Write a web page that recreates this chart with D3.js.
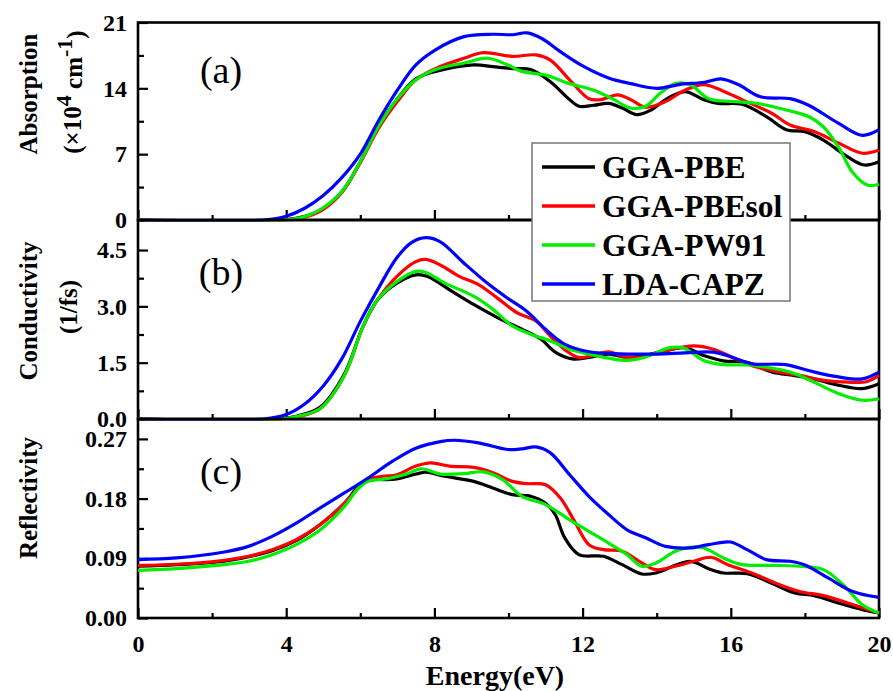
<!DOCTYPE html>
<html>
<head>
<meta charset="utf-8">
<script src="https://cdn.jsdelivr.net/npm/d3@7"></script>
<style>
  html, body { margin: 0; padding: 0; background: #fff; }
  svg { display: block; }
  text { font-family: "Liberation Serif", "Times New Roman", serif; }
</style>
</head>
<body>
<svg id="chart" width="893" height="691"></svg>
<script>
// Functional names shown in the legend
const methods = ["GGA-PBE", "GGA-PBEsol", "GGA-PW91", "LDA-CAPZ"];
const colors = ["#000000", "#ff0000", "#00ee00", "#0000ff"];

// Energy axis ticks (eV)
const energyMajor = [0, 4, 8, 12, 16, 20];
const energyMinor = [2, 6, 10, 14, 18];

// Absorption (x10^4 cm^-1): [energy, value]
const absPBE = [[0,0],[3.8,0],[4.3,0.2],[4.9,1.0],[5.5,3.0],[6.0,6.2],[6.5,10.0],[7.0,12.9],[7.5,15.0],[8.03,15.8],[9.06,16.5],[9.58,16.3],[10.1,16.1],[10.6,16.0],[11.13,14.7],[11.65,12.8],[11.9,12.1],[12.3,12.2],[12.7,12.4],[13.07,11.9],[13.46,11.2],[13.85,11.7],[14.24,12.8],[14.76,13.65],[15.27,12.8],[15.66,12.4],[16.3,12.3],[16.96,11.0],[17.5,9.6],[18.0,9.4],[18.5,8.5],[19.16,6.7],[19.6,5.85],[20,6.2]];
const absPBEsol = [[0,0],[3.9,0],[4.4,0.2],[4.95,1.0],[5.5,2.9],[6.0,6.1],[6.5,9.8],[7.0,12.6],[7.5,14.9],[8.03,16.1],[8.8,17.2],[9.32,17.8],[10.1,17.4],[10.74,17.55],[11.13,17.0],[11.65,14.9],[12.17,12.9],[12.5,12.8],[12.94,13.3],[13.3,12.8],[13.7,12.0],[14.24,12.6],[14.76,13.8],[15.27,14.4],[15.8,13.7],[16.3,12.8],[17.1,11.35],[17.6,10.1],[18.25,9.4],[18.9,8.2],[19.55,7.1],[20,7.45]];
const absPW91 = [[0,0],[3.85,0],[4.35,0.2],[4.92,1.1],[5.5,3.0],[6.0,6.2],[6.5,10.0],[7.0,12.9],[7.5,14.9],[8.03,16.0],[8.8,16.7],[9.45,17.2],[9.97,16.5],[10.36,15.8],[11.0,15.4],[11.65,14.5],[12.3,13.8],[12.8,12.9],[13.3,11.9],[13.7,12.1],[14.1,13.5],[14.5,14.5],[14.9,14.4],[15.4,12.9],[16.05,12.6],[16.7,12.4],[17.5,11.7],[18.1,11.0],[18.5,9.9],[18.9,7.8],[19.3,5.0],[19.7,3.7],[20,3.8]];
const absCAPZ = [[0,0],[3.4,0],[4.0,0.4],[4.5,1.25],[5.0,2.6],[5.5,4.5],[6.0,7.0],[6.5,10.6],[7.0,13.8],[7.5,16.5],[8.03,18.1],[8.8,19.5],[9.58,19.75],[10.1,19.7],[10.5,19.9],[10.9,19.3],[11.4,17.9],[12.04,16.3],[12.7,15.1],[13.3,14.5],[14.0,14.0],[14.6,14.4],[15.3,14.65],[15.73,15.0],[16.2,14.4],[16.8,13.1],[17.6,12.9],[18.1,12.2],[18.9,10.3],[19.55,9.0],[20,9.6]];
const absTicks = [0, 7, 14, 21];
const absMinor = [3.5, 10.5, 17.5];

// Conductivity (1/fs)
const condPBE = [[0,0],[3.8,0],[4.3,0.08],[4.92,0.32],[5.57,1.2],[6.08,2.48],[6.47,3.18],[6.99,3.62],[7.5,3.84],[7.8,3.8],[8.54,3.36],[9.06,3.05],[9.7,2.7],[10.36,2.39],[10.87,2.13],[11.26,1.78],[11.72,1.6],[12.17,1.64],[12.7,1.73],[13.2,1.64],[13.7,1.7],[14.24,1.82],[14.76,1.9],[15.27,1.69],[15.8,1.55],[16.44,1.51],[17.1,1.25],[17.7,1.16],[18.25,1.07],[18.9,0.9],[19.55,0.81],[20,0.94]];
const condPBEsol = [[0,0],[3.9,0],[4.4,0.08],[4.92,0.28],[5.57,1.16],[6.08,2.48],[6.47,3.18],[6.99,3.8],[7.5,4.19],[7.77,4.25],[8.16,4.1],[8.67,3.8],[9.19,3.58],[9.7,3.22],[10.23,2.83],[10.74,2.61],[11.13,2.21],[11.5,1.86],[11.9,1.64],[12.3,1.7],[12.7,1.79],[13.2,1.64],[13.7,1.68],[14.24,1.82],[15.0,1.95],[15.53,1.86],[16.05,1.64],[16.57,1.42],[17.1,1.29],[17.86,1.16],[18.5,1.03],[19.16,0.98],[19.68,1.0],[20,1.16]];
const condPW91 = [[0,0],[3.85,0],[4.35,0.08],[4.92,0.28],[5.57,1.16],[6.08,2.48],[6.47,3.18],[6.99,3.66],[7.5,3.93],[7.77,3.9],[8.28,3.62],[9.06,3.27],[9.58,2.92],[10.1,2.48],[10.6,2.26],[11.13,2.08],[11.65,1.86],[12.17,1.73],[12.7,1.62],[13.2,1.56],[13.7,1.65],[14.37,1.9],[14.76,1.88],[15.27,1.56],[15.8,1.45],[16.44,1.44],[16.96,1.38],[17.6,1.25],[18.25,0.98],[18.9,0.68],[19.55,0.5],[20,0.54]];
const condCAPZ = [[0,0],[3.4,0],[4.0,0.12],[4.5,0.4],[5.0,0.88],[5.5,1.6],[6.0,2.6],[6.5,3.5],[6.99,4.3],[7.38,4.7],[7.77,4.83],[8.16,4.72],[8.8,4.15],[9.45,3.6],[9.97,3.22],[10.49,2.87],[11.0,2.39],[11.5,2.0],[12.17,1.79],[13.2,1.73],[14.0,1.73],[14.76,1.76],[15.53,1.78],[16.05,1.64],[16.57,1.47],[17.48,1.45],[18.1,1.29],[18.9,1.12],[19.55,1.07],[20,1.25]];
const condTicks = [0, 1.5, 3.0, 4.5];
const condMinor = [0.75, 2.25, 3.75];

// Reflectivity
const refPBE = [[0,0.078],[1.04,0.0804],[2.33,0.0855],[3.62,0.1016],[4.27,0.1166],[4.92,0.141],[5.57,0.173],[5.95,0.1986],[6.21,0.209],[6.6,0.2087],[6.99,0.2096],[7.5,0.217],[7.77,0.2197],[8.28,0.2137],[9.06,0.206],[9.58,0.196],[10.1,0.186],[10.6,0.1835],[11.0,0.173],[11.26,0.156],[11.52,0.1207],[11.9,0.0955],[12.56,0.093],[13.07,0.0804],[13.6,0.0664],[13.98,0.0679],[14.89,0.0855],[15.4,0.0744],[15.8,0.0679],[16.44,0.0669],[17.09,0.0528],[17.73,0.0377],[18.25,0.0337],[18.9,0.0226],[19.55,0.0126],[20,0.0075]];
const refPBEsol = [[0,0.0794],[1.04,0.081],[2.33,0.087],[2.98,0.093],[3.62,0.103],[4.27,0.118],[4.92,0.141],[5.57,0.173],[5.95,0.196],[6.21,0.209],[6.6,0.2137],[6.99,0.216],[7.5,0.229],[7.9,0.234],[8.41,0.229],[9.06,0.227],[9.58,0.219],[10.1,0.206],[10.49,0.2026],[11.0,0.201],[11.4,0.181],[11.78,0.146],[12.17,0.1106],[12.56,0.103],[13.07,0.1006],[13.6,0.083],[13.98,0.0729],[14.5,0.078],[15.0,0.0855],[15.47,0.0915],[15.92,0.0804],[16.57,0.0679],[17.2,0.0528],[17.86,0.040],[18.5,0.0337],[19.16,0.0226],[20,0.0075]];
const refPW91 = [[0,0.0719],[1.04,0.0744],[2.33,0.0804],[2.98,0.0855],[3.62,0.0955],[4.27,0.1106],[4.92,0.133],[5.57,0.168],[5.95,0.196],[6.21,0.206],[6.73,0.210],[7.25,0.217],[7.64,0.225],[8.16,0.217],[8.8,0.2177],[9.32,0.2202],[9.84,0.2087],[10.36,0.1835],[11.0,0.171],[11.65,0.148],[12.17,0.1307],[12.7,0.113],[13.2,0.0955],[13.6,0.078],[13.98,0.083],[14.5,0.1006],[14.89,0.1066],[15.27,0.1056],[15.8,0.0905],[16.3,0.0804],[17.09,0.0794],[17.86,0.078],[18.5,0.0729],[19.03,0.0503],[19.55,0.020],[20,0.0075]];
const refCAPZ = [[0,0.088],[1.04,0.0905],[2.33,0.0995],[2.98,0.108],[3.62,0.123],[4.27,0.143],[4.92,0.166],[5.57,0.1885],[6.21,0.211],[6.86,0.236],[7.5,0.256],[8.16,0.266],[8.54,0.268],[9.19,0.264],[9.97,0.254],[10.36,0.255],[10.74,0.258],[11.13,0.249],[11.65,0.216],[12.17,0.1835],[12.7,0.156],[13.2,0.133],[13.7,0.121],[14.24,0.108],[14.89,0.1056],[15.4,0.1106],[15.99,0.1146],[16.44,0.103],[16.96,0.088],[17.6,0.0855],[18.0,0.080],[18.64,0.060],[19.29,0.040],[20,0.031]];
const refTicks = [0, 0.09, 0.18, 0.27];
const refMinor = [0.045, 0.135, 0.225];

const svg = d3.select("#chart");
const FONT = '"Liberation Serif", "Times New Roman", serif';

const x = d3.scaleLinear().domain([0, 20]).range([138, 879]);

const panels = [
  { tag: "(a)", top: 22.5, bottom: 220, domain: [0, 21], ticks: absTicks, minor: absMinor,
    fmt: d3.format("d"), series: [absPBE, absPBEsol, absPW91, absCAPZ] },
  { tag: "(b)", top: 220, bottom: 419, domain: [0, 5.3], ticks: condTicks, minor: condMinor,
    fmt: d3.format(".1f"), series: [condPBE, condPBEsol, condPW91, condCAPZ] },
  { tag: "(c)", top: 419, bottom: 618, domain: [0, 0.3], ticks: refTicks, minor: refMinor,
    fmt: d3.format(".2f"), series: [refPBE, refPBEsol, refPW91, refCAPZ] }
];

const defs = svg.append("defs");

panels.forEach((p, i) => {
  const y = d3.scaleLinear().domain(p.domain).range([p.bottom, p.top]);
  const g = svg.append("g");

  // clip region for the curves
  defs.append("clipPath").attr("id", "clip" + i)
    .append("rect")
    .attr("x", x(0) - 2).attr("y", p.top)
    .attr("width", x(20) - x(0) + 4).attr("height", p.bottom - p.top + 1.5);

  // left axis: labelled major ticks and minor ticks, pointing inward
  const yMajor = g.append("g").attr("transform", `translate(${x(0)},0)`)
    .call(d3.axisLeft(y).tickValues(p.ticks).tickFormat(p.fmt).tickSize(-10).tickPadding(11));
  const yMin = g.append("g").attr("transform", `translate(${x(0)},0)`)
    .call(d3.axisLeft(y).tickValues(p.minor).tickFormat("").tickSize(-6));

  // bottom axis of each panel, inward ticks; labels only on the last one
  const xMajor = g.append("g").attr("transform", `translate(0,${p.bottom})`)
    .call(d3.axisBottom(x).tickValues(energyMajor)
      .tickFormat(i === panels.length - 1 ? d3.format("d") : "")
      .tickSize(-10).tickPadding(17));
  const xMin = g.append("g").attr("transform", `translate(0,${p.bottom})`)
    .call(d3.axisBottom(x).tickValues(energyMinor).tickFormat("").tickSize(-5));

  [yMajor, yMin, xMajor, xMin].forEach(a => {
    a.attr("font-family", null);
    a.select(".domain").remove();
    a.selectAll(".tick line").attr("stroke", "#000").attr("stroke-width", 2.2);
    a.selectAll(".tick text")
      .attr("fill", "#000")
      .style("font-family", FONT)
      .style("font-weight", "bold")
      .style("font-size", "24px");
  });

  // frame
  g.append("rect")
    .attr("x", x(0)).attr("y", p.top)
    .attr("width", x(20) - x(0)).attr("height", p.bottom - p.top)
    .attr("fill", "none").attr("stroke", "#000").attr("stroke-width", 2.6);

  // spectra
  const line = d3.line()
    .x(d => x(d[0])).y(d => y(d[1]))
    .curve(d3.curveCatmullRom.alpha(0.5));
  const lines = svg.append("g").attr("clip-path", `url(#clip${i})`);
  p.series.forEach((s, k) => {
    lines.append("path")
      .datum(s)
      .attr("d", line)
      .attr("fill", "none")
      .attr("stroke", colors[k])
      .attr("stroke-width", 3.2)
      .attr("stroke-linejoin", "round");
  });

  // panel tag
  svg.append("text")
    .attr("x", 221).attr("y", p.top + (i === 0 ? 60.5 : 65))
    .attr("text-anchor", "middle")
    .style("font-family", FONT)
    .style("font-size", "38px")
    .text(p.tag);
});

// y axis titles
function title(lines, cy) {
  lines.forEach(l => {
    const t = svg.append("text")
      .attr("transform", `translate(${l.bx},${cy + (l.dy || 0)}) rotate(-90)`)
      .attr("text-anchor", "middle")
      .style("font-family", FONT)
      .style("font-weight", "bold")
      .style("font-size", "25px");
    l.parts.forEach(pt => {
      const ts = t.append("tspan").text(pt.s);
      if (pt.sup) ts.attr("dy", "-0.45em").style("font-size", "22px");
      if (pt.down) ts.attr("dy", "0.45em");
    });
  });
}
title([
  { bx: 37, parts: [{ s: "Absorption" }] },
  { bx: 81, dy: -2, parts: [{ s: "(×10" }, { s: "4", sup: true }, { s: " cm", down: true }, { s: "-1", sup: true }, { s: ")", down: true }] }
], 94);
title([
  { bx: 37, parts: [{ s: "Conductivity" }] },
  { bx: 77, dy: -4, parts: [{ s: "(1/fs)" }] }
], 311);
title([
  { bx: 37, parts: [{ s: "Reflectivity" }] }
], 498);

// x axis title
svg.append("text")
  .attr("x", 495).attr("y", 685)
  .attr("text-anchor", "middle")
  .style("font-family", FONT)
  .style("font-weight", "bold")
  .style("font-size", "28px")
  .text("Energy(eV)");

// legend
const lg = svg.append("g");
lg.append("rect")
  .attr("x", 532).attr("y", 143).attr("width", 258).attr("height", 158)
  .attr("fill", "#fff").attr("stroke", "#777").attr("stroke-width", 1.5);
methods.forEach((m, k) => {
  const cy = 167 + k * 39;
  lg.append("line")
    .attr("x1", 542).attr("x2", 595).attr("y1", cy).attr("y2", cy)
    .attr("stroke", colors[k]).attr("stroke-width", 3.5);
  lg.append("text")
    .attr("x", 602).attr("y", cy + 11)
    .style("font-family", FONT)
    .style("font-weight", "bold")
    .style("font-size", "31.5px")
    .text(m);
});
</script>
</body>
</html>
